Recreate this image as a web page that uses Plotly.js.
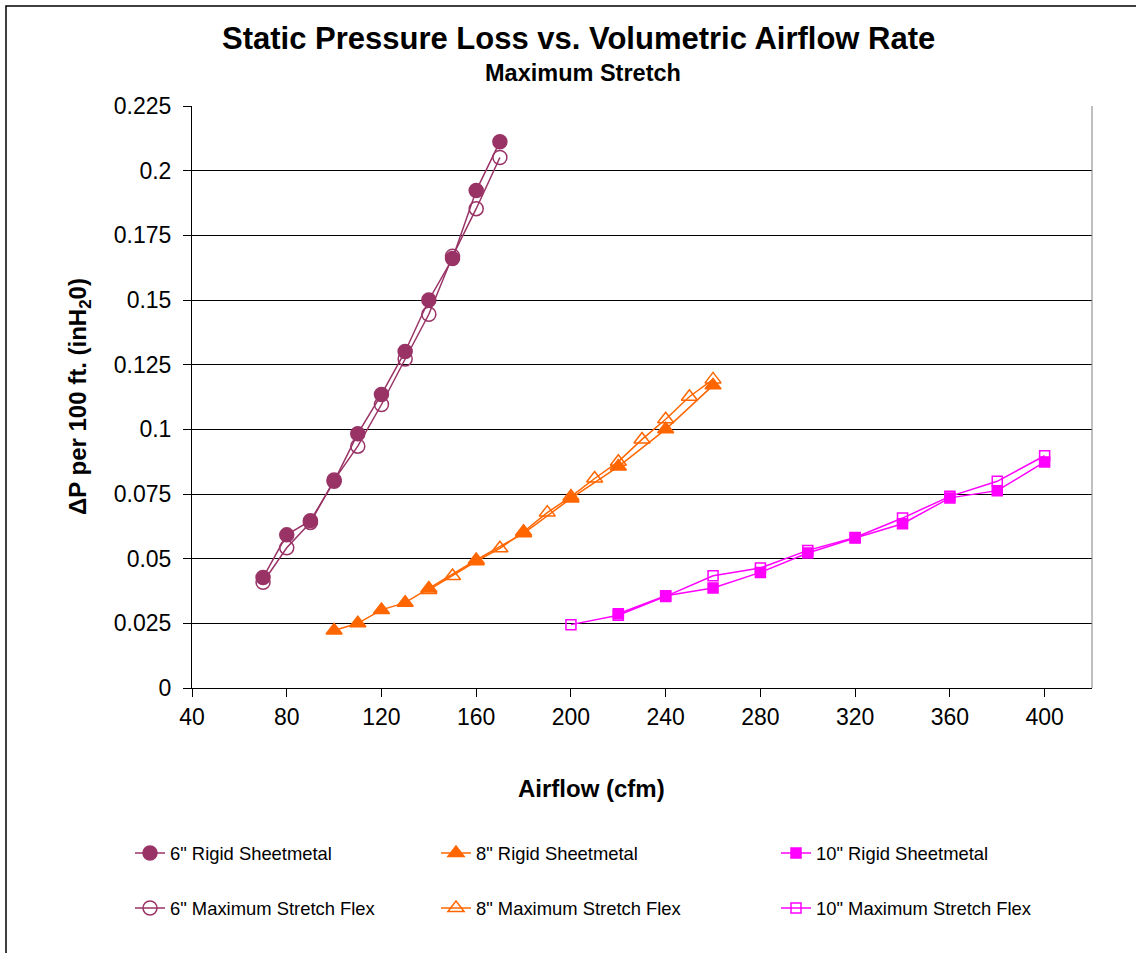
<!DOCTYPE html>
<html>
<head>
<meta charset="utf-8">
<script src="https://cdn.plot.ly/plotly-3.0.1.min.js"></script>
<style>
  html, body { margin: 0; padding: 0; background: #fff; }
  #chart { width: 1136px; height: 953px; }
</style>
</head>
<body>
<div id="chart"></div>
<script>
// ---- Data ----
const x6Rigid = [70, 80, 90, 100, 110, 120, 130, 140, 150, 160, 170];
const y6Rigid = [0.0427, 0.0592, 0.0647, 0.0799, 0.0983, 0.1135, 0.1301, 0.1500, 0.1660, 0.1923, 0.2112];
const x6Flex = [70, 80, 90, 100, 110, 120, 130, 140, 150, 160, 170];
const y6Flex = [0.0409, 0.0542, 0.0640, 0.0804, 0.0935, 0.1096, 0.1272, 0.1445, 0.1669, 0.1853, 0.2051];

const x8Rigid = [100, 110, 120, 130, 140, 160, 180, 200, 220, 240, 260];
const y8Rigid = [0.0222, 0.0250, 0.0302, 0.0330, 0.0385, 0.0495, 0.0598, 0.0733, 0.0856, 0.1000, 0.1170];
const x8Flex = [140, 150, 160, 170, 180, 190, 200, 210, 220, 230, 240, 250, 260];
const y8Flex = [0.0379, 0.0433, 0.0490, 0.0540, 0.0604, 0.0678, 0.0740, 0.0810, 0.0875, 0.0961, 0.1039, 0.1126, 0.1193];

const x10Rigid = [220, 240, 260, 280, 300, 320, 340, 360, 380, 400];
const y10Rigid = [0.0287, 0.0357, 0.0387, 0.0447, 0.0522, 0.0580, 0.0635, 0.0735, 0.0763, 0.0874];
const x10Flex = [200, 220, 240, 260, 280, 300, 320, 340, 360, 380, 400];
const y10Flex = [0.0245, 0.0281, 0.0354, 0.0434, 0.0464, 0.0532, 0.0582, 0.0657, 0.0741, 0.0799, 0.0898];

const seriesNames = [
  '6" Rigid Sheetmetal', '8" Rigid Sheetmetal', '10" Rigid Sheetmetal',
  '6" Maximum Stretch Flex', '8" Maximum Stretch Flex', '10" Maximum Stretch Flex'
];

const xTickVals = [40, 80, 120, 160, 200, 240, 280, 320, 360, 400];
const yTickVals = [0, 0.025, 0.05, 0.075, 0.1, 0.125, 0.15, 0.175, 0.2, 0.225];
const yTickText = ['0', '0.025', '0.05', '0.075', '0.1', '0.125', '0.15', '0.175', '0.2', '0.225'];

const titleText = 'Static Pressure Loss vs. Volumetric Airflow Rate';
const subtitleText = 'Maximum Stretch';
const xTitleText = 'Airflow (cfm)';
const yTitleText = '\u0394P per 100 ft. (inH<sub>2</sub>0)';

// ---- Styling ----
const FONT = 'Arial, "Liberation Sans", sans-serif';
const PURPLE = '#993366', ORANGE = '#FF6600', MAGENTA = '#FF00FF';

function trace(x, y, name, color, symbol, size, legendId) {
  return {
    type: 'scatter', mode: 'lines+markers', x: x, y: y, name: name,
    line: { color: color, width: 1.5 },
    marker: { color: color, symbol: symbol, size: size, line: { color: color, width: 1.5 } },
    legend: legendId, hoverinfo: 'x+y+name'
  };
}

const traces = [
  trace(x6Flex, y6Flex, seriesNames[3], PURPLE, 'circle-open', 14, 'legend4'),
  trace(x6Rigid, y6Rigid, seriesNames[0], PURPLE, 'circle', 14, 'legend'),
  trace(x8Flex, y8Flex, seriesNames[4], ORANGE, 'triangle-up-open', 14, 'legend5'),
  trace(x8Rigid, y8Rigid, seriesNames[1], ORANGE, 'triangle-up', 14, 'legend2'),
  trace(x10Flex, y10Flex, seriesNames[5], MAGENTA, 'square-open', 10, 'legend6'),
  trace(x10Rigid, y10Rigid, seriesNames[2], MAGENTA, 'square', 10, 'legend3')
];

const W = 1136, H = 953;
const L = 192, R = 44, T = 106, B = 265;
const PW = W - L - R, PH = H - T - B;
function px(xpx) { return (xpx - L) / PW; }
function py(ypx) { return (H - B - ypx) / PH; }

function legendAt(textLeft, rowY) {
  return {
    xref: 'container', yref: 'container',
    x: (textLeft - 40) / W, y: 1 - rowY / H,
    xanchor: 'left', yanchor: 'middle',
    bgcolor: 'rgba(0,0,0,0)', borderwidth: 0,
    font: { family: FONT, size: 18.4, color: '#000' }
  };
}

const layout = {
  width: W, height: H,
  margin: { l: L, r: R, t: T, b: B, pad: 0, autoexpand: false },
  paper_bgcolor: '#ffffff', plot_bgcolor: '#ffffff',
  font: { family: FONT, color: '#000' },
  showlegend: true,
  legend: legendAt(170, 853),
  legend2: legendAt(476, 853),
  legend3: legendAt(816, 853),
  legend4: legendAt(170, 908),
  legend5: legendAt(476, 908),
  legend6: legendAt(816, 908),
  xaxis: {
    range: [40, 420], tickmode: 'array', tickvals: xTickVals,
    ticks: 'outside', ticklen: 8, tickwidth: 1, tickcolor: '#000',
    showline: true, linecolor: '#000', linewidth: 1,
    showgrid: false, zeroline: false, automargin: false,
    tickfont: { family: FONT, size: 23, color: '#000' },
    fixedrange: true
  },
  yaxis: {
    range: [0, 0.225], tickmode: 'array', tickvals: yTickVals, ticktext: yTickText,
    ticks: 'outside', ticklen: 8, tickwidth: 1, tickcolor: '#000',
    showline: true, linecolor: '#000', linewidth: 1,
    showgrid: true, gridcolor: '#000', gridwidth: 1, zeroline: false, automargin: false,
    tickfont: { family: FONT, size: 23, color: '#000' },
    ticklabelstandoff: 7,
    fixedrange: true
  },
  shapes: [
    { type: 'line', xref: 'paper', yref: 'paper', x0: 1, x1: 1, y0: 0, y1: 1,
      line: { color: '#808080', width: 1 } },
    { type: 'rect', xref: 'paper', yref: 'paper',
      x0: px(6), x1: px(1150), y0: py(970), y1: py(6),
      line: { color: '#000', width: 1.5 }, fillcolor: 'rgba(0,0,0,0)' }
  ],
  annotations: [
    { text: '<b>' + titleText + '</b>', xref: 'paper', yref: 'paper',
      x: px(578.5), y: py(39), xanchor: 'center', yanchor: 'middle', showarrow: false,
      font: { family: FONT, size: 31, color: '#000' } },
    { text: '<b>' + subtitleText + '</b>', xref: 'paper', yref: 'paper',
      x: px(582.5), y: py(73), xanchor: 'center', yanchor: 'middle', showarrow: false,
      font: { family: FONT, size: 23.5, color: '#000' } },
    { text: '<b>' + xTitleText + '</b>', xref: 'paper', yref: 'paper',
      x: px(591), y: py(788), xanchor: 'center', yanchor: 'middle', showarrow: false,
      font: { family: FONT, size: 24, color: '#000' } },
    { text: '<b>' + yTitleText + '</b>', xref: 'paper', yref: 'paper',
      x: px(79), y: py(397), xanchor: 'center', yanchor: 'middle', showarrow: false,
      textangle: -90,
      font: { family: FONT, size: 24, color: '#000' } }
  ]
};

Plotly.newPlot('chart', traces, layout, { displayModeBar: false, staticPlot: true });
</script>
</body>
</html>
